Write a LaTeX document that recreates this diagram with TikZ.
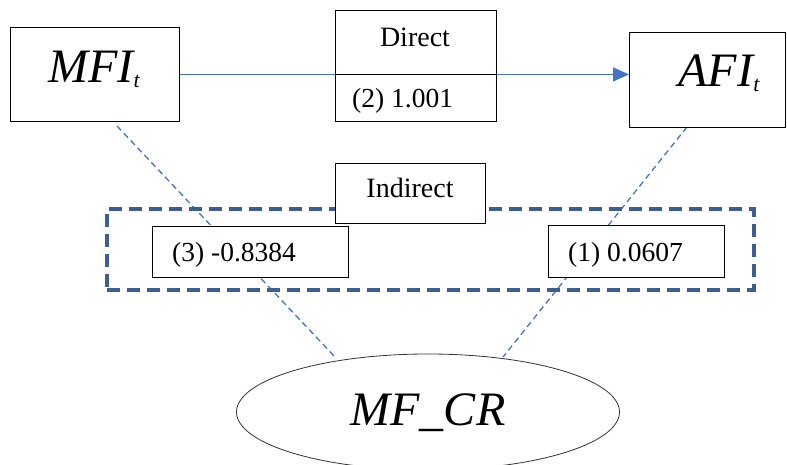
\documentclass[tikz,border=0pt]{standalone}
\usepackage{fontspec}
\setmainfont{Liberation Serif}
\newfontfamily\tnr{Liberation Serif}
\usetikzlibrary{shapes.geometric,arrows.meta}
\definecolor{lineblue}{HTML}{4472C4}
\definecolor{rectblue}{HTML}{3C5F8F}
\begin{document}
\begin{tikzpicture}[x=1bp,y=-1bp,
  box/.style={draw=black,line width=0.9bp,fill=white,inner sep=0,anchor=north west},
  lbl/.style={inner sep=0,anchor=base},
  lblw/.style={inner sep=0,anchor=base west},
  bigfont/.style={font=\tnr\fontsize{48bp}{52bp}\selectfont\itshape},
  midfont/.style={font=\tnr\fontsize{28bp}{32bp}\selectfont},
  valfont/.style={font=\tnr\fontsize{27.5bp}{32bp}\selectfont},
  link/.style={draw=lineblue,line width=1.3bp,dash pattern=on 6bp off 4bp},
  grouprect/.style={draw=rectblue,line width=4bp,dash pattern=on 13bp off 7bp,inner sep=0,anchor=north west}
]
\useasboundingbox (0,0) rectangle (787,465);

% free ends of dashed links
\coordinate (m1) at (117,126);
\coordinate (m2) at (335,357);
\coordinate (a1) at (687,127);
\coordinate (a2) at (503,357);

\draw[link] (m1) -- (m2);
\draw[link] (a1) -- (a2);

% group rectangle
\node[grouprect,minimum width=647bp,minimum height=81bp] (grp) at (105,207) {};

% main boxes
\node[box,minimum width=169bp,minimum height=94bp] (mfi) at (10,27) {};
\node[box,minimum width=156bp,minimum height=95bp] (afi) at (629,32) {};

\draw[draw=lineblue,line width=1.4bp,-{Triangle[length=16bp,width=14bp]}] (mfi.east) -- (mfi.east -| afi.west);

\node[box,minimum width=161bp,minimum height=64bp] (dir) at (335,10) {};
\node[box,minimum width=161bp,minimum height=47bp] (dirv) at (335,74) {};
\node[box,minimum width=150bp,minimum height=60bp] (ind) at (335,163) {};
\node[box,minimum width=196bp,minimum height=51bp] (v3) at (152,226) {};
\node[box,minimum width=176bp,minimum height=52bp] (v1) at (548,225) {};

\node[draw=black!80,line width=0.8bp,fill=white,ellipse,minimum width=383bp,minimum height=116bp,inner sep=0] (cr) at (428,412) {};

% texts
\node[lbl,bigfont] (mfit) at (94,83) {MFI\raisebox{-5bp}{\fontsize{22bp}{24bp}\selectfont t}};
\node[lbl,bigfont] (afit) at (719,87) {AFI\raisebox{-5bp}{\fontsize{22bp}{24bp}\selectfont t}};
\node[lbl,midfont] (dirt) at (415,47) {Direct};
\node[lblw,valfont] (dirvt) at (352,108) {(2) 1.001};
\node[lbl,midfont] (indt) at (410,198) {Indirect};
\node[lblw,valfont] (v3t) at (172,262) {(3) -0.8384};
\node[lblw,valfont] (v1t) at (568,262) {(1) 0.0607};
\node[lbl,bigfont] (crt) at (428,425) {MF\_CR};
\end{tikzpicture}
\end{document}
